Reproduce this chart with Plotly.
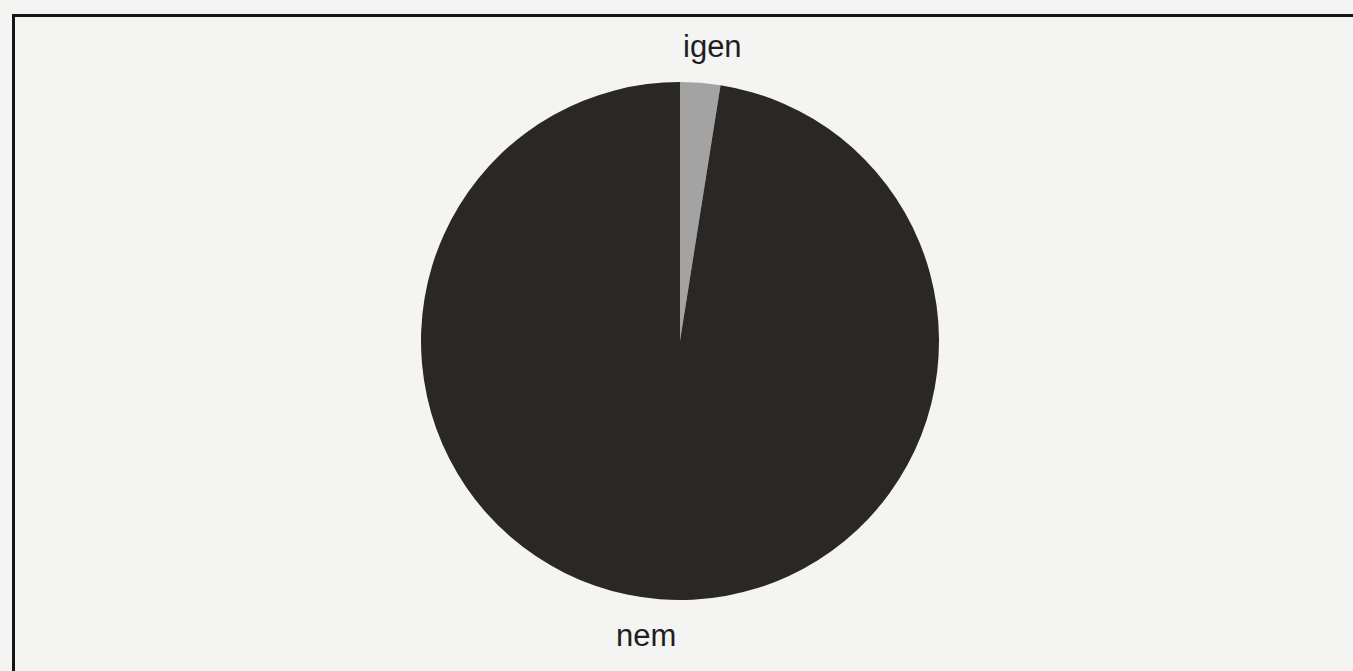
import plotly.graph_objects as go

# Answer categories and their shares (percent)
labels = ["igen", "nem"]
values = [2.5, 97.5]
colors = ["#a3a3a3", "#2b2725"]

W, H = 1353, 671
cx, cy, r = 680, 341, 259

fig = go.Figure(
    go.Pie(
        labels=labels,
        values=values,
        sort=False,
        direction="clockwise",
        rotation=0,
        marker=dict(colors=colors, line=dict(width=0)),
        textinfo="none",
        hoverinfo="label+percent",
        showlegend=False,
        domain=dict(
            x=[(cx - r) / W, (cx + r) / W],
            y=[1 - (cy + r) / H, 1 - (cy - r) / H],
        ),
    )
)

label_font = dict(family="Liberation Sans, Arial", size=31, color="#1e1e22")

# Category names placed above and below the pie
fig.add_annotation(text=labels[0], x=712 / W, y=1 - 46 / H, xref="paper", yref="paper",
                   xanchor="center", yanchor="middle", showarrow=False, font=label_font)
fig.add_annotation(text=labels[1], x=646 / W, y=1 - 635 / H, xref="paper", yref="paper",
                   xanchor="center", yanchor="middle", showarrow=False, font=label_font)

# Chart frame
fig.add_shape(type="rect", xref="paper", yref="paper",
              x0=13.5 / W, x1=1.01, y0=-0.02, y1=1 - 15.5 / H,
              line=dict(color="#151515", width=3), fillcolor="rgba(0,0,0,0)")

fig.update_layout(
    width=W, height=H,
    margin=dict(l=0, r=0, t=0, b=0),
    paper_bgcolor="#f4f4f2",
    plot_bgcolor="#f4f4f2",
)

fig.write_html("out.html")
